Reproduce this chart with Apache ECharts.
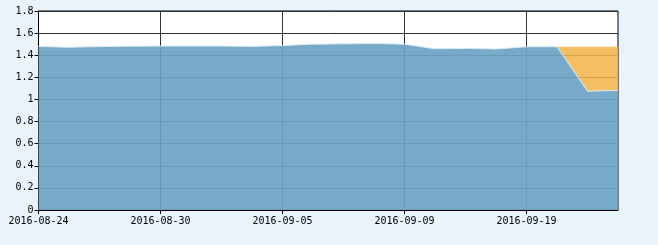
<!DOCTYPE html>
<html>
<head>
<meta charset="utf-8">
<script src="https://cdn.jsdelivr.net/npm/echarts@6/dist/echarts.min.js"></script>
<style>
html,body{margin:0;padding:0;background:#e8f3fb;}
#c{width:658px;height:245px;}
</style>
</head>
<body>
<div id="c"></div>
<script>
const categories = ['2016-08-24','2016-08-25','2016-08-26','2016-08-29','2016-08-30','2016-08-31','2016-09-01','2016-09-02','2016-09-05','2016-09-06','2016-09-07','2016-09-08','2016-09-09','2016-09-12','2016-09-13','2016-09-14','2016-09-19','2016-09-20','2016-09-21','2016-09-22'];
const blueValues = [1.48,1.472,1.478,1.482,1.483,1.483,1.483,1.48,1.488,1.500,1.503,1.507,1.500,1.458,1.462,1.456,1.477,1.477,1.074,1.083];
const orangeTop = [null,null,null,null,null,null,null,null,null,null,null,null,null,null,null,null,null,1.477,1.477,1.477];

// orange band is drawn stacked on the blue series, up to orangeTop
const orangeBand = orangeTop.map((t, i) => t == null ? null : Math.max(0, t - blueValues[i]));

const chart = echarts.init(document.getElementById('c'), null, {renderer:'canvas'});
const font = {fontFamily:'DejaVu Sans Mono', fontSize:10, color:'#000'};
chart.setOption({
  backgroundColor:'#e8f3fb',
  animation:false,
  grid:{left:38.5, right:40, top:11, bottom:35, show:true, backgroundColor:'#fff', borderColor:'#000', borderWidth:1},
  xAxis:{
    type:'category', data:categories, boundaryGap:false,
    axisLine:{show:true, lineStyle:{color:'#000', width:1}},
    axisTick:{show:true, interval:3, length:4, lineStyle:{color:'#000'}},
    axisLabel:Object.assign({interval:3, margin:6}, font),
    splitLine:{show:true, interval:3, lineStyle:{color:'#333', width:1}}
  },
  yAxis:{
    type:'value', min:0, max:1.8, interval:0.2,
    axisLine:{show:true, lineStyle:{color:'#000', width:1}},
    axisTick:{show:true, length:4, lineStyle:{color:'#000'}},
    axisLabel:Object.assign({margin:5, formatter:function(v){return String(Math.round(v*10)/10);}}, font),
    splitLine:{show:true, lineStyle:{color:'#333', width:1}}
  },
  series:[
    {type:'line', data:blueValues, symbol:'none', stack:'s', z:2,
     lineStyle:{width:1, color:'#dcecf6'},
     areaStyle:{color:'#6aa3c3', opacity:0.92}},
    {type:'line', data:orangeBand, symbol:'none', stack:'s', z:1,
     lineStyle:{width:0, color:'#f4c062'},
     areaStyle:{color:'#f2b548', opacity:0.86}}
  ]
});
</script>
</body>
</html>
